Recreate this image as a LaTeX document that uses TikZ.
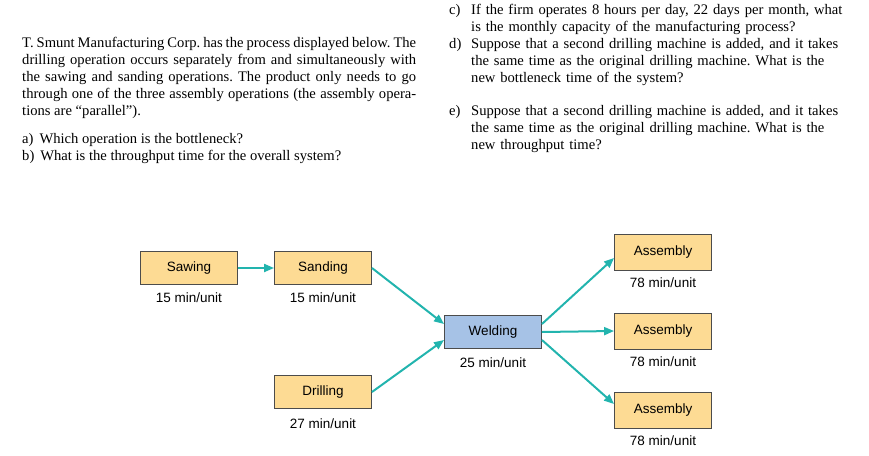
\documentclass[tikz,border=0pt]{standalone}
\usepackage{fontspec}
\setmainfont{Liberation Serif}
\newfontfamily\boxfont{Liberation Sans}
\usetikzlibrary{arrows.meta}
\definecolor{boxor}{HTML}{FDDB94}
\definecolor{boxbl}{HTML}{A6C2E6}
\definecolor{teal}{HTML}{22B4AE}
\frenchspacing
\tikzset{
 x=1pt,y=-1pt,
 bx/.style={draw=black!70,line width=0.9pt,fill=boxor,minimum width=97pt,minimum height=33pt,font=\boxfont\fontsize{13.5}{16}\selectfont,inner sep=0pt},
 lab/.style={font=\boxfont\fontsize{13.5}{16}\selectfont,inner sep=0pt},
 ar/.style={teal,line width=2pt,-{Triangle[length=10pt,width=8pt]}},
 para/.style={inner sep=0pt,anchor=north west,font=\fontsize{14.6}{17}\selectfont},
}
\begin{document}
\begin{tikzpicture}
\useasboundingbox (0,0) rectangle (869,455);
\node[para,text width=394pt,align=justify] (p) at (22,37) {\hyphenpenalty=10000 T. Smunt Manufacturing Corp. has the process displayed below. The drilling operation occurs separately from and simultaneously with the sawing and sanding operations. The product only needs to go through one of the three assembly operations (the assembly operations are ``parallel'').};
\node[para] (qa) at (22,133) {a)\hspace{6pt}Which operation is the bottleneck?};
\node[para] (qb) at (22,150) {b)\hspace{6pt}What is the throughput time for the overall system?};
\node[para] (lc) at (449,4) {c)};
\node[para,text width=372pt,align=left] (tc) at (471,4) {\hyphenpenalty=10000 If the firm operates 8 hours per day, 22 days per month, what is the monthly capacity of the manufacturing process?};
\node[para] (ld) at (449,38) {d)};
\node[para,text width=372pt,align=left] (td) at (471,38) {\hyphenpenalty=10000 Suppose that a second drilling machine is added, and it takes the same time as the original drilling machine. What is the new bottleneck time of the system?};
\node[para] (le) at (449,105) {e)};
\node[para,text width=372pt,align=left] (te) at (471,105) {\hyphenpenalty=10000 Suppose that a second drilling machine is added, and it takes the same time as the original drilling machine. What is the new throughput time?};

\node[bx] (saw) at (189,268) {Sawing};
\node[bx] (san) at (323,268) {Sanding};
\node[bx] (dri) at (323,392) {Drilling};
\node[bx,fill=boxbl] (wel) at (493,332) {Welding};
\node[bx,minimum height=36pt] (a1) at (663,252) {Assembly};
\node[bx,minimum height=36pt] (a2) at (663,331) {Assembly};
\node[bx,minimum height=36pt] (a3) at (663,410) {Assembly};
\node[lab] (l1) at (189,298) {15 min/unit};
\node[lab] (l2) at (323,298) {15 min/unit};
\node[lab] (l3) at (323,424) {27 min/unit};
\node[lab] (l4) at (493,363) {25 min/unit};
\node[lab] (l5) at (663,283) {78 min/unit};
\node[lab] (l6) at (663,362) {78 min/unit};
\node[lab] (l7) at (663,441) {78 min/unit};
\draw[ar] (saw.east) -- (san.west);
\draw[ar] (san.east) -- ([yshift=8pt]wel.west);
\draw[ar] (dri.east) -- ([yshift=-8pt]wel.west);
\draw[ar] ([yshift=8pt]wel.east) -- ([yshift=-6pt]a1.west);
\draw[ar] (wel.east) -- (a2.west);
\draw[ar] ([yshift=-8pt]wel.east) -- ([yshift=6pt]a3.west);
\end{tikzpicture}
\end{document}
